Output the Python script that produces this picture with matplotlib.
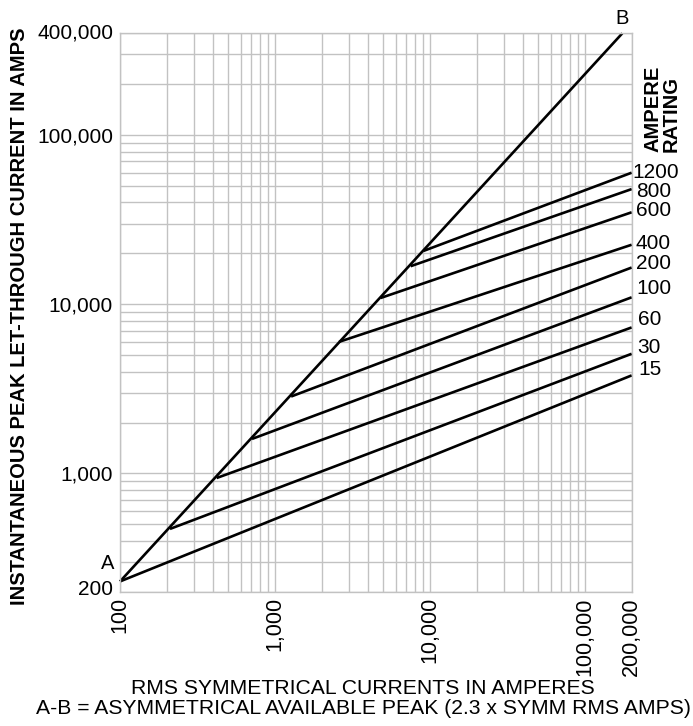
import matplotlib
matplotlib.use("Agg")
import matplotlib.pyplot as plt
from matplotlib.ticker import LogLocator, NullFormatter
from matplotlib.transforms import ScaledTranslation

plt.rcParams['font.family'] = ['Liberation Sans', 'DejaVu Sans']

# A-B line (asymmetrical available peak)
ab_x = [100, 174000]
ab_y = [230, 400000]

# let-through lines per ampere rating: knee on A-B, end at 200,000 A
ratings = ['15', '30', '60', '100', '200', '400', '600', '800', '1200']
knee_x = [100, 210, 420, 710, 1270, 2590, 4800, 7500, 9100]
knee_y = [230, 470, 940, 1600, 2850, 6000, 10900, 16800, 20700]
end_y = [3800, 5100, 7300, 11000, 16500, 22500, 35000, 48000, 60000]

xticks = [100, 1000, 10000, 100000, 200000]
xtick_labels = ['100', '1,000', '10,000', '100,000', '200,000']
yticks = [200, 1000, 10000, 100000, 400000]
ytick_labels = ['200', '1,000', '10,000', '100,000', '400,000']

# label nudges in pixels (dx right, dy up)
nudge = [(7, 6), (6, 6), (6, 8), (5, 9), (4, 4), (4, 1), (4, 2), (4, -2), (1, 0)]

fig = plt.figure(figsize=(6.93, 7.26), dpi=100)
ax = fig.add_axes([0.1732, 0.185, 0.7383, 0.7691])
ax.set_xscale('log')
ax.set_yscale('log')
ax.set_xlim(100, 200000)
ax.set_ylim(200, 400000)

grid_c = '#c2c2c2'
ax.xaxis.set_minor_locator(LogLocator(base=10, subs=range(2, 10)))
ax.yaxis.set_minor_locator(LogLocator(base=10, subs=range(2, 10)))
ax.xaxis.set_minor_formatter(NullFormatter())
ax.yaxis.set_minor_formatter(NullFormatter())
ax.grid(True, which='both', color=grid_c, linewidth=1.0)
ax.set_axisbelow(True)
for s in ax.spines.values():
    s.set_color(grid_c)
    s.set_linewidth(1.0)

ax.set_xticks(xticks)
ax.set_xticklabels(xtick_labels, rotation=90, fontsize=15.5)
ax.set_yticks(yticks)
ax.set_yticklabels(ytick_labels, fontsize=15)
ax.tick_params(which='both', length=0)
ax.tick_params(axis='x', pad=4)
ax.tick_params(axis='y', pad=5)

# end labels sit slightly inside the axis range
ylabs = ax.get_yticklabels()
ylabs[0].set_transform(ylabs[0].get_transform() + ScaledTranslation(0, 4 / 100, fig.dpi_scale_trans))
ylabs[-1].set_transform(ylabs[-1].get_transform() + ScaledTranslation(0, 2 / 100, fig.dpi_scale_trans))

ax.plot(ab_x, ab_y, color='black', linewidth=1.9, solid_capstyle='butt', clip_on=False)
for i in range(len(ratings)):
    ax.plot([knee_x[i], 200000], [knee_y[i], end_y[i]], color='black',
            linewidth=1.9, solid_capstyle='butt', clip_on=False)
    dx, dy = nudge[i]
    ax.annotate(ratings[i], (200000, end_y[i]), xytext=(dx * 0.72, dy * 0.72),
                textcoords='offset points', ha='left', va='center',
                fontsize=15, annotation_clip=False)

ax.annotate('B', (ab_x[1], ab_y[1]), xytext=(0, 3.5), textcoords='offset points',
            ha='center', va='bottom', fontsize=14.5, annotation_clip=False)
ax.annotate('A', (100, 230), xytext=(-9, 6), textcoords='offset points',
            ha='center', va='bottom', fontsize=14.5, annotation_clip=False)

fig.text(662 / 693, 1 - 152 / 726, 'AMPERE\nRATING', rotation=90, ha='center',
         va='bottom', fontsize=14.5, fontweight='bold', linespacing=0.95,
         multialignment='left')

fig.text(19.5 / 693, 1 - 316 / 726, 'INSTANTANEOUS PEAK LET-THROUGH CURRENT IN AMPS',
         rotation=90, ha='center', va='center', fontsize=14.5, fontweight='bold')

fig.text(363 / 693, 1 - 689 / 726, 'RMS SYMMETRICAL CURRENTS IN AMPERES',
         ha='center', va='center', fontsize=15.2)
fig.text(363 / 693, 1 - 708 / 726, 'A-B = ASYMMETRICAL AVAILABLE PEAK (2.3 x SYMM RMS AMPS)',
         ha='center', va='center', fontsize=15.2)

fig.savefig('out.png', dpi=100)
